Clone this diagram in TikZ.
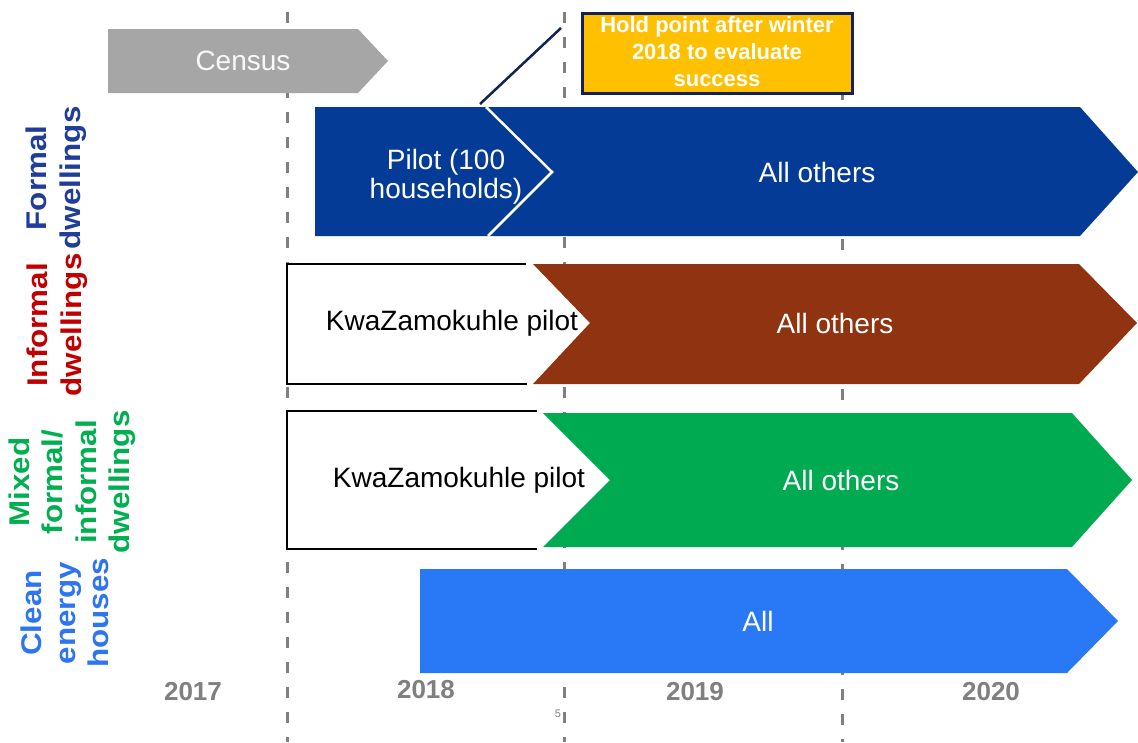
\documentclass[tikz,border=0pt]{standalone}
\usepackage{fontspec}
\setmainfont{Liberation Sans}
\newfontfamily\lblfont[FakeStretch=1.1]{Liberation Sans}
\definecolor{formalblue}{RGB}{4,59,150}
\definecolor{formallbl}{RGB}{31,61,153}
\definecolor{brownbar}{RGB}{143,51,16}
\definecolor{informallbl}{RGB}{192,0,0}
\definecolor{greenbar}{RGB}{0,170,80}
\definecolor{mixedlbl}{RGB}{0,176,80}
\definecolor{cleanbar}{RGB}{41,121,246}
\definecolor{cleanlbl}{RGB}{46,117,240}
\definecolor{censusgray}{RGB}{166,166,166}
\definecolor{holdyellow}{RGB}{255,192,0}
\definecolor{navyline}{RGB}{18,34,84}
\definecolor{dashgray}{RGB}{128,128,128}
\definecolor{yeargray}{RGB}{128,128,128}
\begin{document}
\begin{tikzpicture}[x=1pt,y=-1pt,
  vdash/.style={draw=dashgray, line width=3pt, dash pattern=on 11pt off 14pt},
  txt/.style={font=\fontsize{28}{30}\selectfont, inner sep=0pt, align=center},
  wtxt/.style={txt, text=white},
  lbl/.style={rotate=90, align=center, font=\lblfont\bfseries\fontsize{28.5}{33.5}\selectfont, inner sep=0pt},
  yr/.style={text=yeargray, font=\bfseries\fontsize{26}{28}\selectfont, inner sep=0pt},
  pilotedge/.style={draw=black, line width=2.5pt}
]
\useasboundingbox (0,0) rectangle (1138,742);
\fill[white] (0,0) rectangle (1138,742);

% dashed year separators
\coordinate (g1t) at (287,12); \coordinate (g1b) at (287,742);
\coordinate (g2t) at (564,12); \coordinate (g2b) at (564,742);
\coordinate (g3t) at (842,14); \coordinate (g3b) at (842,742);
\draw[vdash] (g1t) -- (g1b);
\draw[vdash] (g2t) -- (g2b);
\draw[vdash] (g3t) -- (g3b);

% Census
\fill[censusgray] (108,29) -- (358,29) -- (388,61) -- (358,93) -- (108,93) -- cycle;
\node[txt, text=white!95!gray] (census) at (243,61) {Census};

% Hold point box and connector
\node[draw=navyline, line width=3pt, fill=holdyellow, minimum width=270pt, minimum height=80pt, inner sep=0pt] (hold) at (717.5,53.5) {};
\node[text=white, font=\bfseries\fontsize{22}{27}\selectfont, align=center, inner sep=0pt] (holdtxt) at (717,52) {Hold point after winter\\2018 to evaluate\\success};
\coordinate (lnA) at (480,104);
\coordinate (lnB) at (561,28);
\draw[navyline, line width=2.5pt] (lnA) -- (lnB);

% Formal dwellings row
\fill[formalblue] (315,107) -- (1080,107) -- (1138,172) -- (1080,236) -- (315,236) -- cycle;
\draw[white, line width=2.5pt] (486,107) -- (552,172) -- (488,236);
\node[wtxt, font=\fontsize{28}{29}\selectfont] (pilotF) at (446,177) {Pilot (100\\households)};
\node[wtxt] (othersF) at (817,172) {All others};

% Informal dwellings row
\fill[white] (287,264) -- (533,264) -- (590,323) -- (533,384) -- (287,384) -- cycle;
\draw[pilotedge] (526,264) -- (287,264) -- (287,384) -- (527,384);
\fill[brownbar] (533,264) -- (1079,264) -- (1137,323) -- (1079,384) -- (533,384) -- (590,323) -- cycle;
\node[txt, text=black] (pilotI) at (452,323) {KwaZamokuhle pilot};
\node[wtxt] (othersI) at (835,323) {All others};

% Mixed dwellings row
\fill[white] (287,411) -- (543,411) -- (610,480) -- (543,549) -- (287,549) -- cycle;
\draw[pilotedge] (537,411) -- (287,411) -- (287,549) -- (537,549);
\fill[greenbar] (543,413) -- (1072,413) -- (1132,480) -- (1072,547) -- (543,547) -- (610,480) -- cycle;
\node[txt, text=black] (pilotM) at (459,480) {KwaZamokuhle pilot};
\node[wtxt] (othersM) at (841,480) {All others};

% Clean energy row
\fill[cleanbar] (420,569) -- (1067,569) -- (1118,621) -- (1067,673) -- (420,673) -- cycle;
\node[wtxt] (allC) at (758,621) {All};

% Row labels
\node[lbl, text=formallbl] (lblF) at (56,178) {Formal\\dwellings};
\node[lbl, text=informallbl] (lblI) at (57,325) {Informal\\dwellings};
\node[lbl, text=mixedlbl] (lblM) at (72,482) {Mixed\\formal/\\informal\\dwellings};
\node[lbl, text=cleanlbl] (lblC) at (65,613) {Clean\\energy\\houses};

% Years
\node[yr] (y17) at (193,692) {2017};
\node[yr] (y18) at (426,690) {2018};
\node[yr] (y19) at (695,692) {2019};
\node[yr] (y20) at (991,692) {2020};
\node[text=dashgray, font=\fontsize{11}{12}\selectfont, inner sep=0pt] (pg) at (558,714) {5};
\end{tikzpicture}
\end{document}
